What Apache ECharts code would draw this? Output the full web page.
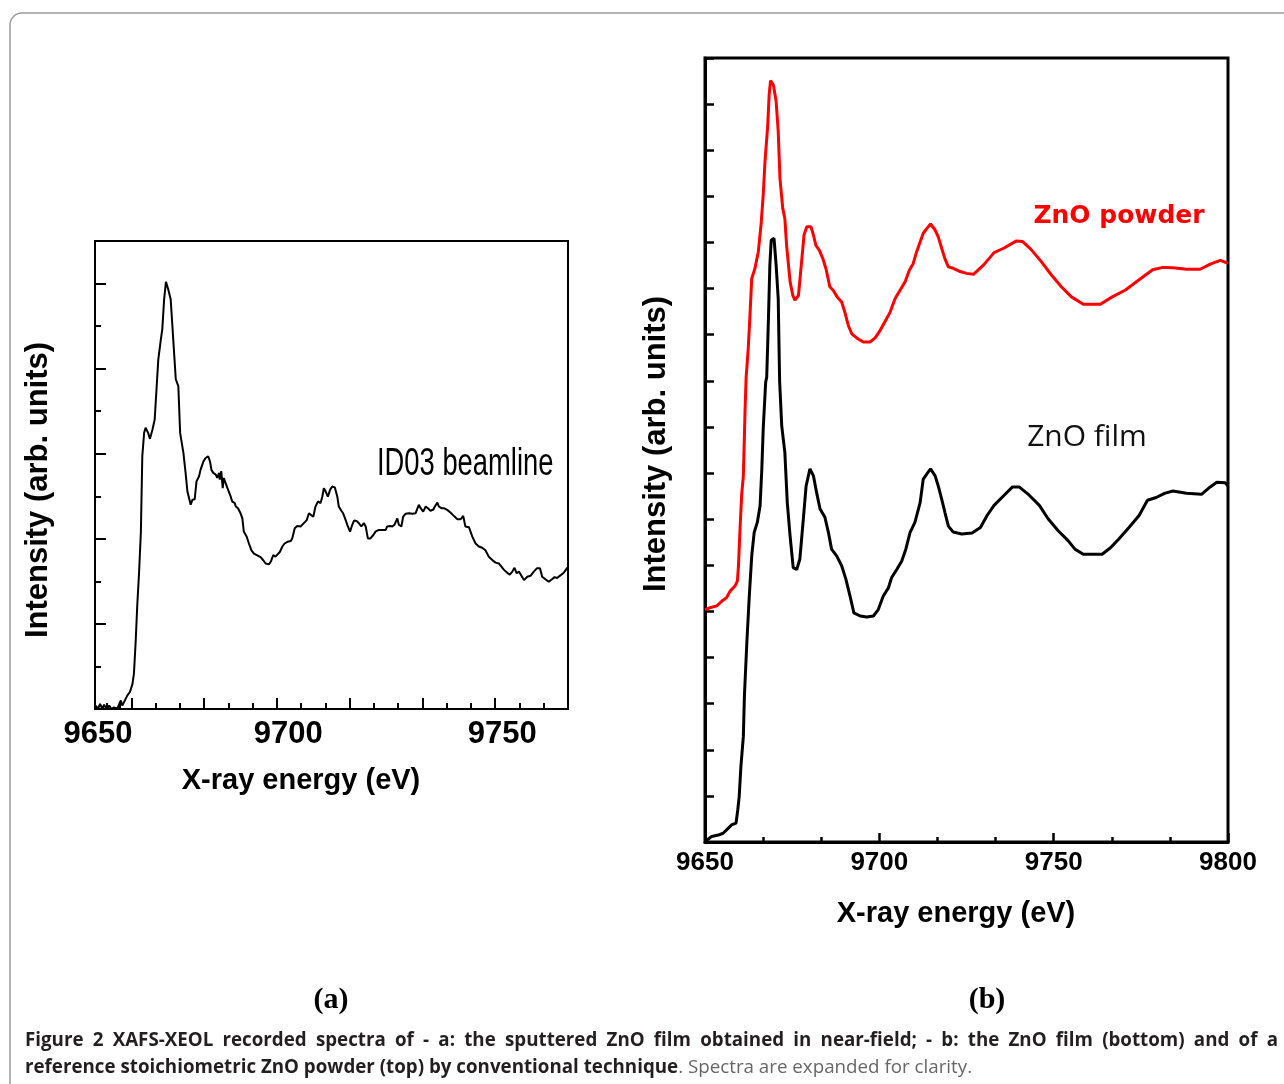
<!DOCTYPE html>
<html>
<head>
<meta charset="utf-8">
<script src="https://cdn.jsdelivr.net/npm/echarts@6/dist/echarts.min.js"></script>
<style>html,body{margin:0;padding:0;background:#fff}#c{width:1284px;height:1084px}</style>
</head>
<body>
<div id="c"></div>
<script>
// ---- Panel (a): near-field XEOL spectrum, ID03 beamline  [energy eV, intensity arb.]
const nearFieldFilm = [
[9650.2,0.08],[9650.8,0.00],[9651.4,0.12],[9652.0,0.00],[9652.5,0.10],[9653.2,0.00],[9653.9,0.08],[9654.5,0.00],[9655.2,0.04],[9656.1,0.00],
[9657.1,0.20],[9657.5,0.08],[9658.0,0.12],[9658.9,0.32],[9659.6,0.40],[9660.3,0.59],[9660.7,0.83],[9661.2,1.62],[9661.6,2.41],[9662.1,3.19],
[9662.6,4.14],[9663.0,5.94],[9663.5,6.49],[9663.9,6.61],[9664.6,6.49],[9665.1,6.35],[9665.8,6.57],[9666.4,6.80],[9666.9,7.51],[9667.4,8.22],
[9668.1,8.69],[9668.5,8.93],[9669.0,9.63],[9669.5,10.04],[9670.1,9.87],[9670.8,9.63],[9671.1,9.59],[9671.5,8.69],[9672.2,7.75],[9672.6,7.79],
[9672.9,7.59],[9673.4,6.49],[9673.7,6.33],[9674.3,6.02],[9674.9,5.55],[9675.4,5.11],[9675.8,5.07],[9676.3,4.80],[9676.8,4.92],[9677.4,4.93],
[9677.9,5.35],[9678.6,5.47],[9679.0,5.62],[9679.8,5.82],[9680.4,5.90],[9681.1,5.94],[9681.6,5.82],[9682.0,5.62],[9682.5,5.55],[9683.2,5.51],
[9683.6,5.43],[9684.1,5.55],[9684.3,5.39],[9684.7,5.59],[9685.1,5.19],[9685.4,5.43],[9685.9,5.31],[9686.4,5.19],[9686.8,5.23],[9687.3,4.99],
[9687.7,4.88],[9688.4,4.84],[9688.7,4.76],[9689.3,4.72],[9690.0,4.60],[9690.5,4.48],[9690.9,4.17],[9691.7,4.05],[9692.3,3.89],[9693.0,3.73],
[9693.7,3.65],[9694.6,3.61],[9695.5,3.57],[9696.3,3.49],[9696.9,3.42],[9697.8,3.40],[9698.3,3.46],[9699.0,3.62],[9699.6,3.58],[9700.1,3.54],
[9700.8,3.69],[9701.5,3.82],[9702.1,3.89],[9702.9,3.93],[9703.8,3.95],[9704.2,4.01],[9704.9,4.25],[9705.6,4.30],[9706.5,4.29],[9707.4,4.37],
[9708.2,4.44],[9708.8,4.60],[9709.3,4.59],[9710.0,4.52],[9710.6,4.76],[9711.3,4.88],[9712.0,4.84],[9712.5,5.00],[9712.9,5.19],[9713.4,5.11],
[9714.0,4.99],[9714.6,5.15],[9715.2,5.23],[9715.9,5.21],[9716.6,4.99],[9717.0,4.76],[9717.7,4.66],[9718.2,4.60],[9718.9,4.44],[9719.5,4.29],
[9720.1,4.17],[9720.7,4.33],[9721.2,4.43],[9721.9,4.42],[9722.5,4.37],[9723.2,4.29],[9723.9,4.37],[9724.4,4.29],[9725.0,4.01],[9725.7,4.01],
[9726.5,4.09],[9727.1,4.17],[9728.0,4.21],[9728.7,4.21],[9729.2,4.25],[9729.9,4.21],[9730.3,4.29],[9731.1,4.30],[9731.7,4.29],[9732.3,4.33],
[9733.1,4.48],[9733.5,4.33],[9734.2,4.29],[9734.7,4.52],[9735.4,4.59],[9736.3,4.60],[9737.2,4.59],[9738.1,4.60],[9739.0,4.80],[9739.5,4.72],
[9740.2,4.64],[9740.9,4.76],[9741.5,4.72],[9742.2,4.66],[9743.0,4.69],[9743.4,4.76],[9744.1,4.85],[9744.5,4.76],[9745.2,4.72],[9745.9,4.72],
[9746.8,4.68],[9747.7,4.62],[9748.6,4.54],[9749.6,4.46],[9750.5,4.46],[9751.2,4.54],[9751.8,4.29],[9752.8,4.27],[9753.7,4.05],[9754.6,3.89],
[9755.5,3.82],[9756.4,3.79],[9757.3,3.73],[9758.3,3.57],[9759.2,3.50],[9760.1,3.44],[9761.0,3.42],[9761.6,3.36],[9762.4,3.27],[9763.3,3.20],
[9764.0,3.16],[9764.7,3.23],[9765.3,3.32],[9765.9,3.19],[9766.5,3.23],[9767.0,3.27],[9767.9,3.03],[9768.8,3.11],[9769.7,3.13],[9770.6,3.23],
[9771.5,3.31],[9772.3,3.31],[9772.9,3.11],[9773.8,3.05],[9774.7,2.99],[9775.2,2.99],[9775.6,3.05],[9776.3,3.10],[9777.0,3.08],[9777.9,3.14],
[9778.9,3.21],[9779.9,3.33]
];

// ---- Panel (b): conventional XAFS, ZnO film (bottom, black)
const filmConventional = [
[9650.0,0.01],[9651.9,0.12],[9653.8,0.15],[9655.2,0.19],[9656.7,0.30],[9657.6,0.37],[9658.9,0.41],[9659.4,0.70],[9659.8,0.98],[9660.3,1.64],
[9661.0,2.29],[9661.3,3.16],[9662.0,4.32],[9662.7,5.33],[9663.4,6.20],[9664.1,6.71],[9665.0,6.93],[9665.8,7.29],[9666.3,8.09],[9666.7,8.96],
[9667.4,9.97],[9667.7,10.08],[9668.2,11.35],[9668.6,12.51],[9669.0,13.05],[9669.8,13.09],[9670.4,12.51],[9671.0,11.78],[9671.4,10.00],[9672.0,9.03],
[9672.9,8.45],[9673.6,7.36],[9674.4,6.64],[9675.3,5.95],[9676.3,5.91],[9677.2,6.13],[9678.2,7.00],[9679.0,7.72],[9680.1,8.09],[9681.1,7.94],
[9682.0,7.58],[9683.0,7.22],[9684.4,7.04],[9685.4,6.71],[9686.3,6.35],[9687.8,6.20],[9689.2,5.99],[9690.4,5.70],[9691.6,5.33],[9692.7,4.97],
[9694.5,4.90],[9696.4,4.88],[9698.3,4.90],[9699.7,5.04],[9701.1,5.33],[9702.6,5.51],[9703.5,5.73],[9705.0,5.91],[9706.4,6.09],[9707.6,6.35],
[9708.8,6.71],[9710.2,6.93],[9711.7,7.36],[9712.6,7.87],[9713.9,8.01],[9714.7,8.09],[9716.0,7.94],[9716.9,7.72],[9717.9,7.43],[9718.8,7.15],
[9719.8,6.85],[9721.2,6.72],[9723.6,6.68],[9726.6,6.70],[9729.0,6.82],[9730.9,7.08],[9732.9,7.30],[9735.8,7.52],[9738.2,7.70],[9740.1,7.70],
[9743.0,7.52],[9745.9,7.30],[9748.4,7.01],[9751.3,6.75],[9754.2,6.53],[9756.1,6.35],[9758.5,6.24],[9763.9,6.24],[9766.3,6.38],[9768.7,6.57],
[9771.6,6.82],[9774.5,7.08],[9776.9,7.41],[9779.4,7.47],[9781.8,7.56],[9784.2,7.61],[9788.1,7.56],[9792.4,7.54],[9794.9,7.70],[9796.8,7.80],
[9799.2,7.79],[9800.0,7.72]
];

// ---- Panel (b): reference ZnO powder (top, red)
const powderConventional = [
[9650.0,5.04],[9651.4,5.08],[9653.4,5.12],[9654.8,5.22],[9656.2,5.30],[9657.2,5.44],[9658.6,5.55],[9659.3,5.66],[9659.6,5.99],[9660.0,6.71],
[9660.5,7.51],[9661.0,7.94],[9661.5,9.39],[9661.8,10.08],[9662.4,10.70],[9662.9,11.42],[9663.4,12.22],[9664.3,12.43],[9665.3,12.80],[9666.1,13.41],
[9666.7,14.03],[9667.2,14.75],[9668.0,15.55],[9668.4,16.20],[9668.8,16.51],[9669.6,16.42],[9670.4,16.06],[9671.0,15.41],[9671.5,14.39],[9672.3,13.74],
[9672.9,13.52],[9673.4,12.94],[9674.4,12.15],[9675.2,11.85],[9675.8,11.75],[9676.8,11.85],[9677.7,12.58],[9678.4,13.16],[9679.2,13.34],[9680.4,13.34],
[9681.1,13.16],[9681.8,12.94],[9682.8,12.83],[9683.8,12.65],[9684.7,12.43],[9685.8,12.04],[9686.8,11.96],[9687.9,11.82],[9689.2,11.71],[9690.1,11.49],
[9691.1,11.20],[9692.1,11.02],[9693.5,10.93],[9695.4,10.84],[9697.3,10.84],[9698.8,10.93],[9700.2,11.09],[9701.6,11.28],[9703.1,11.49],[9704.5,11.78],
[9705.9,11.96],[9707.4,12.15],[9708.6,12.40],[9709.7,12.54],[9710.7,12.80],[9711.7,13.01],[9712.6,13.20],[9713.6,13.30],[9714.7,13.40],[9716.0,13.27],
[9716.9,13.12],[9717.9,12.87],[9718.8,12.65],[9719.8,12.47],[9721.2,12.44],[9723.2,12.37],[9725.0,12.33],[9727.0,12.31],[9730.0,12.52],[9732.9,12.78],
[9735.8,12.88],[9739.2,13.03],[9741.1,13.02],[9743.5,12.85],[9746.4,12.59],[9749.3,12.30],[9752.2,12.04],[9755.1,11.82],[9758.5,11.66],[9763.4,11.66],
[9766.8,11.82],[9770.6,11.97],[9774.5,12.19],[9778.4,12.41],[9781.3,12.46],[9784.2,12.45],[9788.1,12.42],[9792.0,12.42],[9794.9,12.53],[9797.8,12.61],
[9800.0,12.55]
];

// ---- Ticks and tick labels
const aMajorTicksX = [9660, 9680, 9700, 9720, 9740, 9760];
const aMinorTicksX = [9653.33, 9656.67, 9666.67, 9673.33, 9686.67, 9693.33, 9706.67, 9713.33, 9726.67, 9733.33, 9746.67, 9753.33, 9766.67, 9773.33];
const aTickLabels = ['9650', '9700', '9750'];
const aTickLabelAt = [9650.8, 9703.1, 9761.9];
const aMajorTicksY = [2, 4, 6, 8, 10];
const aMinorTicksY = [1, 3, 5, 7, 9];
const bMinorTicksX = [9666.67, 9683.33, 9716.67, 9733.33, 9766.67, 9783.33];

// ---- Caption
const captionLine1 = 'Figure 2 XAFS-XEOL recorded spectra of - a: the sputtered ZnO film obtained in near-field; - b: the ZnO film (bottom) and of a';
const captionLine2Bold = 'reference stoichiometric ZnO powder (top) by conventional technique';
const captionLine2Regular = '. Spectra are expanded for clarity.';

const AR = "'Liberation Sans', Arial, sans-serif";
const OS = "'Open Sans', sans-serif";
const CAP_SIZE = 18.75;
const black = '#000';

// justify caption line 1 (as in the reference) by widening the word spaces
const words1 = captionLine1.split(' ');
const mctx = document.createElement('canvas').getContext('2d');
mctx.font = 'bold ' + CAP_SIZE + 'px ' + OS;
const wordsWidth = words1.reduce((s, w) => s + mctx.measureText(w).width, 0);
const spaceW = (1253 - wordsWidth) / (words1.length - 1);
const line1Rich = words1.map(w => '{b|' + w + '}').join('{s| }');

const chart = echarts.init(document.getElementById('c'), null, {renderer: 'canvas'});

const titleStyle = (size) => ({fontFamily: AR, fontWeight: 'bold', fontSize: size, color: black});

const option = {
  animation: false,
  backgroundColor: '#fff',
  grid: [
    {left: 95, top: 241, width: 473, height: 468, show: true, borderColor: black, borderWidth: 2, backgroundColor: 'rgba(0,0,0,0)'},
    {left: 705, top: 58, width: 523, height: 784, show: true, borderColor: black, borderWidth: 3, backgroundColor: 'rgba(0,0,0,0)'}
  ],
  xAxis: [
    {
      gridIndex: 0, type: 'value', min: 9650, max: 9780, position: 'bottom',
      axisLine: {lineStyle: {color: black, width: 2}},
      axisTick: {inside: true, length: 11, customValues: aMajorTicksX, lineStyle: {color: black, width: 2}},
      axisLabel: {customValues: aTickLabelAt, formatter: (v) => aTickLabels[aTickLabelAt.indexOf(v)] || '',
        fontFamily: AR, fontWeight: 'bold', fontSize: 31, color: black, margin: 10},
      splitLine: {show: false},
      name: 'X-ray energy (eV)', nameLocation: 'middle', nameGap: 57,
      nameTextStyle: Object.assign(titleStyle(29), {padding: [0, 61, 0, 0]})
    },
    {
      gridIndex: 0, type: 'value', min: 9650, max: 9780, position: 'bottom', offset: 0,
      axisLine: {show: false},
      axisTick: {inside: true, length: 6, customValues: aMinorTicksX, lineStyle: {color: black, width: 2}},
      axisLabel: {show: false}, splitLine: {show: false}
    },
    {
      gridIndex: 1, type: 'value', min: 9650, max: 9800, interval: 50, position: 'bottom',
      axisLine: {lineStyle: {color: black, width: 3}},
      axisTick: {inside: true, length: 9, lineStyle: {color: black, width: 2.5}},
      axisLabel: {formatter: (v) => String(v), fontFamily: AR, fontWeight: 'bold', fontSize: 26, color: black, margin: 8},
      splitLine: {show: false},
      name: 'X-ray energy (eV)', nameLocation: 'middle', nameGap: 57,
      nameTextStyle: Object.assign(titleStyle(29), {padding: [0, 21, 0, 0]})
    },
    {
      gridIndex: 1, type: 'value', min: 9650, max: 9800, position: 'bottom', offset: 0,
      axisLine: {show: false},
      axisTick: {inside: true, length: 5, customValues: bMinorTicksX, lineStyle: {color: black, width: 2.5}},
      axisLabel: {show: false}, splitLine: {show: false}
    }
  ],
  yAxis: [
    {
      gridIndex: 0, type: 'value', min: 0, max: 11, position: 'left',
      axisLine: {show: true, lineStyle: {color: black, width: 2}},
      axisTick: {show: true, inside: true, length: 11, customValues: aMajorTicksY, lineStyle: {color: black, width: 2}},
      axisLabel: {show: false}, splitLine: {show: false},
      name: 'Intensity (arb. units)', nameLocation: 'middle', nameGap: 41,
      nameTextStyle: Object.assign(titleStyle(31), {padding: [0, 30, 0, 0]})
    },
    {
      gridIndex: 0, type: 'value', min: 0, max: 11, position: 'left', offset: 0,
      axisLine: {show: false},
      axisTick: {show: true, inside: true, length: 6, customValues: aMinorTicksY, lineStyle: {color: black, width: 2}},
      axisLabel: {show: false}, splitLine: {show: false}
    },
    {
      gridIndex: 1, type: 'value', min: 0, max: 17, interval: 1, position: 'left',
      axisLine: {show: true, lineStyle: {color: black, width: 3}},
      axisTick: {show: true, inside: true, length: 9, lineStyle: {color: black, width: 2.5}},
      axisLabel: {show: false}, splitLine: {show: false},
      name: 'Intensity (arb. units)', nameLocation: 'middle', nameGap: 33,
      nameTextStyle: Object.assign(titleStyle(31), {padding: [0, 0, 0, 12]})
    }
  ],
  series: [
    {type: 'line', xAxisIndex: 0, yAxisIndex: 0, data: nearFieldFilm, showSymbol: false, silent: true,
      lineStyle: {color: black, width: 2}},
    {type: 'line', xAxisIndex: 2, yAxisIndex: 2, data: filmConventional, showSymbol: false, silent: true,
      lineStyle: {color: black, width: 3}},
    {type: 'line', xAxisIndex: 2, yAxisIndex: 2, data: powderConventional, showSymbol: false, silent: true,
      lineStyle: {color: '#ff0000', width: 3}}
  ],
  graphic: [
    {type: 'rect', z: -10, silent: true, shape: {x: 10, y: 13, width: 1300, height: 1100, r: 12},
      style: {fill: 'none', stroke: '#9a9a9a', lineWidth: 1.5}},
    {type: 'text', x: 377, y: 465, scaleX: 0.72, silent: true,
      style: {text: 'ID03 beamline', fontFamily: AR, fontSize: 38, fill: black, align: 'left', verticalAlign: 'middle'}},
    {type: 'text', x: 1119, y: 216, silent: true,
      style: {text: 'ZnO powder', fontFamily: "'DejaVu Sans', sans-serif", fontWeight: 'bold', fontSize: 25, fill: '#ff0000', align: 'center', verticalAlign: 'middle'}},
    {type: 'text', x: 1087, y: 437, silent: true,
      style: {text: 'ZnO film', fontFamily: OS, fontSize: 30, fill: '#111', align: 'center', verticalAlign: 'middle'}},
    {type: 'text', x: 331, y: 1000, silent: true,
      style: {text: '(a)', fontFamily: "'Liberation Serif', 'Times New Roman', serif", fontWeight: 'bold', fontSize: 30, fill: black, align: 'center', verticalAlign: 'middle'}},
    {type: 'text', x: 987, y: 1000, silent: true,
      style: {text: '(b)', fontFamily: "'Liberation Serif', 'Times New Roman', serif", fontWeight: 'bold', fontSize: 30, fill: black, align: 'center', verticalAlign: 'middle'}},
    {type: 'text', x: 25, y: 1027, silent: true,
      style: {
        text: line1Rich + '\n{b|' + captionLine2Bold + '}{r|' + captionLine2Regular + '}',
        rich: {
          b: {fontFamily: OS, fontWeight: 'bold', fontSize: CAP_SIZE, fill: '#231f20', lineHeight: 27},
          s: {fontFamily: OS, fontWeight: 'bold', fontSize: CAP_SIZE, fill: '#231f20', lineHeight: 27, width: spaceW},
          r: {fontFamily: OS, fontSize: CAP_SIZE, fill: '#666', lineHeight: 27}
        }
      }}
  ]
};
chart.setOption(option);
</script>
</body>
</html>
